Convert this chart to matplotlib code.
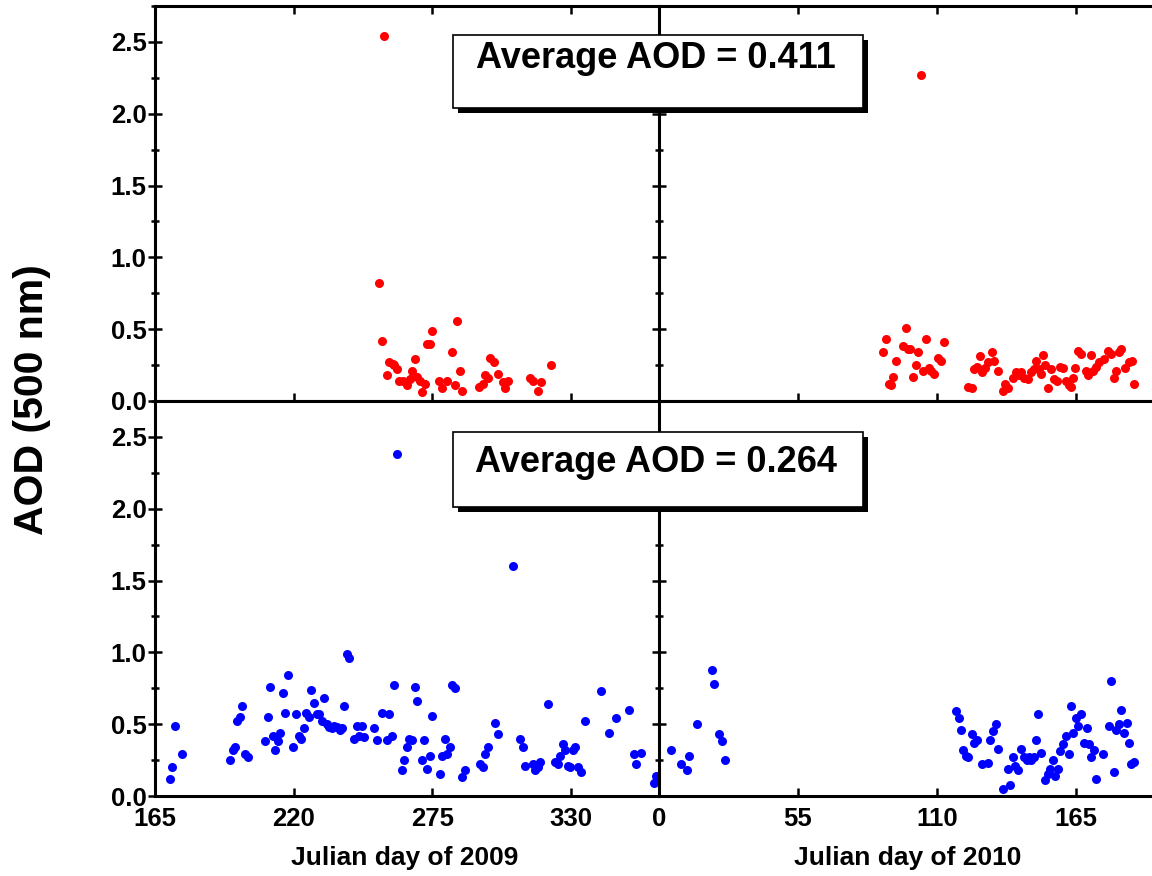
#!/usr/bin/env python3
"""
AOD (500 nm) time series, 2009 and 2010, split into two periods (top: red, bottom: blue).
Four panels glued together with no gaps, plus 'Average AOD' boxes with a drop shadow.
"""

import numpy as np
import matplotlib.pyplot as plt
from matplotlib.patches import Rectangle
from matplotlib.ticker import MultipleLocator, FormatStrFormatter

plt.rcParams['font.family'] = ['Liberation Sans', 'DejaVu Sans']
plt.rcParams['font.weight'] = 'bold'

# --- data -----------------------------------------------------------------
# top row, red: Julian day and AOD
red_2009_day = [256, 254, 255, 257, 258, 259.5, 260, 261, 262, 263.5,
                265, 266, 267, 268, 269, 270, 271, 272, 273, 274,
                275, 277.7, 279, 281, 283, 284, 285, 286, 287, 293.7,
                295, 296, 297, 298, 299.6, 301, 303, 304, 305, 314,
                315, 317, 318, 322]
red_2009_aod = [2.54, 0.82, 0.42, 0.18, 0.27, 0.26, 0.25, 0.22, 0.14, 0.14,
                0.11, 0.15, 0.21, 0.29, 0.17, 0.14, 0.06, 0.12, 0.40, 0.40,
                0.49, 0.14, 0.09, 0.14, 0.34, 0.11, 0.56, 0.21, 0.07, 0.10,
                0.12, 0.18, 0.16, 0.30, 0.27, 0.19, 0.13, 0.09, 0.14, 0.16,
                0.14, 0.07, 0.13, 0.25]

red_2010_day = [103.8, 89.6, 88.7, 91, 91.7, 92.7, 93.7, 96.5, 97.7, 98.6,
                99.4, 100.6, 101.8, 102.6, 104.6, 105.6, 106.6, 107.7, 108.9, 110.5,
                111.6, 112.6, 122.4, 123.7, 124.7, 125.6, 126.9, 127.8, 129, 130.1,
                131.8, 132.6, 133.9, 135.9, 137, 137.9, 140.1, 141.2, 142.2, 143.2,
                144.5, 145.8, 147.1, 148.2, 149.1, 150.2, 151.1, 152, 152.8, 153.8,
                155.1, 156.1, 157.5, 158.8, 159.8, 160.8, 162.1, 163, 163.9, 164.7,
                165.7, 167, 168.7, 169.6, 170.7, 171.7, 172.9, 174.2, 176.2, 177.6,
                178.9, 179.9, 180.9, 181.8, 182.8, 184.2, 185.9, 187.1, 187.9]
red_2010_aod = [2.27, 0.43, 0.34, 0.12, 0.11, 0.17, 0.28, 0.38, 0.51, 0.36,
                0.36, 0.17, 0.25, 0.34, 0.21, 0.43, 0.23, 0.21, 0.19, 0.30,
                0.28, 0.41, 0.10, 0.09, 0.22, 0.24, 0.31, 0.20, 0.23, 0.27,
                0.34, 0.28, 0.21, 0.07, 0.12, 0.09, 0.16, 0.20, 0.18, 0.20,
                0.16, 0.15, 0.20, 0.22, 0.28, 0.22, 0.19, 0.32, 0.25, 0.09,
                0.22, 0.15, 0.14, 0.24, 0.23, 0.14, 0.11, 0.10, 0.16, 0.23,
                0.35, 0.33, 0.21, 0.18, 0.32, 0.21, 0.24, 0.27, 0.29, 0.35,
                0.33, 0.16, 0.21, 0.34, 0.36, 0.23, 0.27, 0.28, 0.12]

# bottom row, blue
blue_2009_day = [171, 171.9, 172.8, 175.9, 194.8, 195.8, 196.7, 197.7, 198.7, 199.7,
                 200.9, 201.9, 208.7, 209.9, 210.8, 211.8, 212.8, 213.8, 214.7, 215.7,
                 216.7, 217.7, 219.9, 221, 222.2, 223.1, 224.1, 225, 226.1, 227.1,
                 228.1, 229.1, 230.1, 231.1, 232.1, 233.1, 234.2, 235.2, 236.2, 237.3,
                 238.3, 239.3, 240, 241, 242, 244, 245, 246, 247, 248,
                 251.9, 252.9, 254.9, 257, 258, 259, 260, 261, 263, 264,
                 265, 265.9, 267, 268, 269, 270.9, 271.9, 273, 274, 275,
                 278, 279, 280, 281, 282, 283, 284, 287, 288, 293.8,
                 295, 295.8, 297, 300, 301, 307, 310, 311, 311.8, 314.9,
                 315.9, 316.9, 317.9, 320.9, 323.9, 324.9, 325.9, 326.8, 327.8, 328.8,
                 329.8, 330.8, 331.8, 332.9, 333.9, 335.8, 341.9, 345, 347.9, 353,
                 355, 356, 358, 363, 364]
blue_2009_aod = [0.12, 0.20, 0.49, 0.29, 0.25, 0.32, 0.34, 0.52, 0.55, 0.63,
                 0.29, 0.27, 0.38, 0.55, 0.76, 0.42, 0.32, 0.38, 0.44, 0.72,
                 0.58, 0.84, 0.34, 0.57, 0.42, 0.40, 0.47, 0.58, 0.55, 0.74,
                 0.65, 0.57, 0.57, 0.52, 0.68, 0.50, 0.48, 0.47, 0.49, 0.48,
                 0.46, 0.47, 0.63, 0.99, 0.96, 0.40, 0.49, 0.42, 0.49, 0.41,
                 0.47, 0.39, 0.58, 0.39, 0.57, 0.42, 0.77, 2.38, 0.18, 0.25,
                 0.34, 0.40, 0.39, 0.76, 0.66, 0.25, 0.39, 0.19, 0.28, 0.56,
                 0.15, 0.28, 0.40, 0.29, 0.34, 0.77, 0.75, 0.13, 0.18, 0.22,
                 0.20, 0.29, 0.34, 0.51, 0.43, 1.60, 0.40, 0.34, 0.21, 0.22,
                 0.18, 0.20, 0.24, 0.64, 0.24, 0.22, 0.28, 0.36, 0.32, 0.21,
                 0.20, 0.32, 0.34, 0.20, 0.17, 0.52, 0.73, 0.44, 0.54, 0.60,
                 0.29, 0.22, 0.30, 0.09, 0.14]

blue_2010_day = [4.9, 8.7, 11, 11.9, 15.1, 20.9, 21.9, 23.8, 24.9, 26,
                 117.5, 118.6, 119.6, 120.4, 121.5, 122.4, 123.7, 124.7, 125.7, 127.6,
                 130, 131, 132.1, 133.1, 133.9, 135.9, 137.9, 139, 140.1, 141,
                 142.1, 143.2, 144.2, 145.4, 146.2, 147.1, 148.2, 149.1, 149.8, 151.1,
                 152.8, 153.8, 154.8, 155.9, 156.8, 157.7, 158.8, 159.8, 160.8, 162,
                 163, 163.9, 165, 165.9, 167, 168, 169.1, 170.1, 170.9, 172,
                 172.9, 175.7, 178, 178.9, 179.9, 180.9, 181.8, 182.8, 183.9, 185,
                 185.9, 186.8, 187.9]
blue_2010_aod = [0.32, 0.22, 0.18, 0.28, 0.50, 0.88, 0.78, 0.43, 0.38, 0.25,
                 0.59, 0.54, 0.46, 0.32, 0.28, 0.27, 0.43, 0.37, 0.39, 0.22,
                 0.23, 0.39, 0.45, 0.50, 0.33, 0.05, 0.19, 0.08, 0.27, 0.21,
                 0.18, 0.33, 0.27, 0.25, 0.27, 0.25, 0.27, 0.39, 0.57, 0.30,
                 0.11, 0.15, 0.19, 0.25, 0.14, 0.19, 0.31, 0.36, 0.42, 0.29,
                 0.63, 0.44, 0.54, 0.49, 0.57, 0.37, 0.47, 0.36, 0.27, 0.32,
                 0.12, 0.29, 0.49, 0.80, 0.17, 0.46, 0.50, 0.60, 0.44, 0.51,
                 0.37, 0.22, 0.24]

avg_labels = ['Average AOD = 0.411', 'Average AOD = 0.264']
xticks_2009 = [165, 220, 275, 330]
xticks_2010 = [0, 55, 110, 165]
xlabels = ['Julian day of 2009', 'Julian day of 2010']


def style_axis(ax, top_row, left_col):
    for s in ax.spines.values():
        s.set_linewidth(2.2)
    ax.spines['right'].set_visible(False)
    ax.set_ylim(0, 2.75)
    ax.yaxis.set_major_locator(MultipleLocator(0.5))
    ax.yaxis.set_minor_locator(MultipleLocator(0.25))
    ax.yaxis.set_major_formatter(FormatStrFormatter('%.1f'))
    ax.tick_params(axis='y', which='major', direction='inout', length=10, width=1.8,
                   labelsize=18.5, pad=1, right=False, labelleft=left_col)
    ax.tick_params(axis='y', which='minor', direction='inout', length=6, width=1.8, right=False)
    ax.tick_params(axis='x', which='major', direction='in', length=6, width=1.8,
                   labelsize=18.5, pad=8, top=True, bottom=True,
                   labelbottom=not top_row)
    if not top_row:
        ax.tick_params(axis='x', top=False)
    if left_col:
        ax.set_xlim(165, 365)
        ax.set_xticks(xticks_2009)
    else:
        ax.set_xlim(0, 195)
        ax.set_xticks(xticks_2010)


def main():
    W, H = 1152, 876
    fig = plt.figure(figsize=(W / 100, H / 100), dpi=100)

    # panel edges in pixels
    x0, xm, x1 = 155, 659, 1152
    y_top, y_mid, y_bot = 6, 401, 796

    def rect(left, right, top, bottom):
        return [left / W, 1 - bottom / H, (right - left) / W, (bottom - top) / H]

    ax_tl = fig.add_axes(rect(x0, xm, y_top, y_mid))
    ax_tr = fig.add_axes(rect(xm, x1, y_top, y_mid))
    ax_bl = fig.add_axes(rect(x0, xm, y_mid, y_bot))
    ax_br = fig.add_axes(rect(xm, x1, y_mid, y_bot))

    series = [
        (ax_tl, red_2009_day, red_2009_aod, '#ff0000'),
        (ax_tr, red_2010_day, red_2010_aod, '#ff0000'),
        (ax_bl, blue_2009_day, blue_2009_aod, '#0000ff'),
        (ax_br, blue_2010_day, blue_2010_aod, '#0000ff'),
    ]
    for ax, d, v, c in series:
        ax.plot(d, v, 'o', color=c, ms=6.5, mew=0)

    style_axis(ax_tl, True, True)
    style_axis(ax_tr, True, False)
    style_axis(ax_bl, False, True)
    style_axis(ax_br, False, False)

    # "Average AOD" boxes with drop shadow (figure coords)
    for (top, bottom, base), label in zip([(35, 108, 68), (432, 507, 472)], avg_labels):
        sh = 5
        fig.add_artist(Rectangle(((453 + sh) / W, 1 - (bottom + sh) / H),
                                 (863 - 453) / W, (bottom - top) / H,
                                 transform=fig.transFigure, facecolor='black',
                                 edgecolor='black', lw=0, zorder=5))
        fig.add_artist(Rectangle((453 / W, 1 - bottom / H),
                                 (863 - 453) / W, (bottom - top) / H,
                                 transform=fig.transFigure, facecolor='white',
                                 edgecolor='black', lw=1.2, zorder=6))
        fig.text(656 / W, 1 - base / H, label, ha='center', va='baseline',
                 fontsize=26, fontweight='bold', zorder=7)

    fig.text(405 / W, 1 - 858 / H, xlabels[0], ha='center', va='center',
             fontsize=19, fontweight='bold')
    fig.text(908 / W, 1 - 858 / H, xlabels[1], ha='center', va='center',
             fontsize=19, fontweight='bold')
    fig.text(32 / W, 1 - 400 / H, 'AOD (500 nm)', ha='center', va='center',
             rotation=90, fontsize=29.5, fontweight='bold')

    plt.savefig('out.png', dpi=100)
    plt.close()


if __name__ == '__main__':
    main()
